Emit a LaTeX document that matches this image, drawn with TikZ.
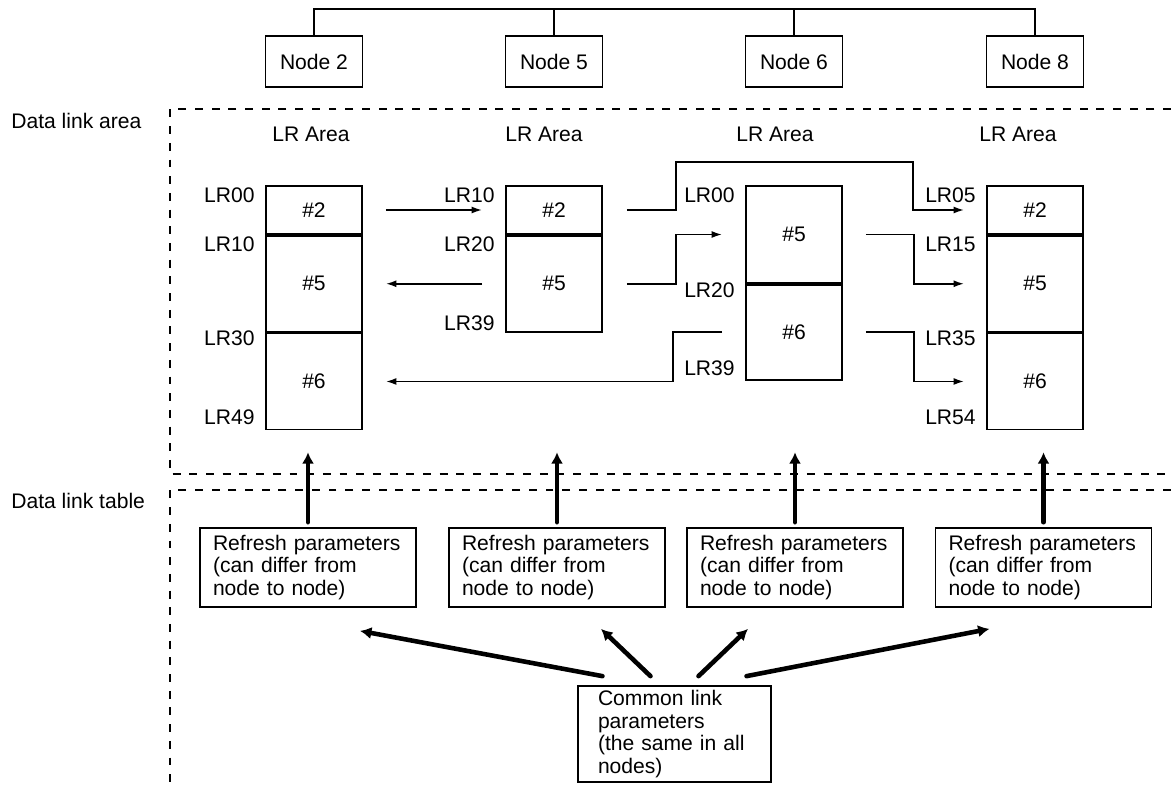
\documentclass[tikz,border=0pt]{standalone}
\usepackage{fontspec}
\setmainfont{Liberation Sans}
\usetikzlibrary{positioning,calc,arrows.meta}

\tikzset{
  every node/.style={font=\fontsize{12}{13}\selectfont},
  nodebox/.style={draw,line width=1pt,minimum width=1.94cm,minimum height=1.02cm,inner sep=0pt},
  cell/.style={draw,line width=1pt,minimum width=1.92cm,inner sep=0pt},
  lr/.style={anchor=east,inner sep=0pt},
  refresh/.style={draw,line width=1pt,align=left,text width=3.8cm,inner xsep=0.26cm,inner ysep=0pt,minimum height=1.58cm},
  link/.style={line width=1pt,-{Latex[length=6pt,width=4pt]}},
  bigarrow/.style={line width=2.6pt,line cap=round,-{Latex[length=6.5pt,width=7pt]}},
  region/.style={line width=1pt,dash pattern=on 4.5pt off 5pt},
  divider/.style={line width=1.4pt}
}

\begin{document}
\begin{tikzpicture}[x=0.02cm,y=-0.02cm]
    \useasboundingbox (0,0) rectangle (1171,795);
    % Network nodes on the bus
    \node[nodebox] (n2) at (314,61.5) {Node 2};
    \node[nodebox] (n5) at (554,61.5) {Node 5};
    \node[nodebox] (n6) at (794,61.5) {Node 6};
    \node[nodebox] (n8) at (1035,61.5) {Node 8};
    \draw[line width=1pt] (n2.north) -- ++(0,-26) -| (n8.north);
    \draw[line width=1pt] (n5.north) -- ++(0,-26);
    \draw[line width=1pt] (n6.north) -- ++(0,-26);
    % Dashed regions
    \draw[region] (1171,109) -- (170,109) -- (170,474) -- (1171,474);
    \draw[region] (1171,490) -- (170,490) -- (170,783);
    \node[anchor=west,inner sep=0pt] (dla) at (11,121) {Data link area};
    \node[anchor=west,inner sep=0pt] (dlt) at (11,501) {Data link table};
    % LR Area headings
    \node (ha) at (311,134) {LR Area};
    \node (hb) at (544,134) {LR Area};
    \node (hc) at (775,134) {LR Area};
    \node (hd) at (1018,134) {LR Area};
    % Node 2 LR area
    \node[cell,minimum height=0.96cm] (b1a) at (314,210) {\#2};
    \node[cell,minimum height=1.92cm,below=0pt of b1a] (b1b) {\#5};
    \node[cell,minimum height=1.92cm,below=0pt of b1b] (b1c) {\#6};
    \draw[divider] (b1a.south west) -- (b1a.south east);
    \draw[divider] (b1b.south west) -- (b1b.south east);
    \node[lr] (l1a) at (255,195) {LR00};
    \node[lr] (l1b) at (255,244) {LR10};
    \node[lr] (l1c) at (255,338) {LR30};
    \node[lr] (l1d) at (255,417) {LR49};
    % Node 5 LR area
    \node[cell,minimum height=0.96cm] (b2a) at (554,210) {\#2};
    \node[cell,minimum height=1.92cm,below=0pt of b2a] (b2b) {\#5};
    \draw[divider] (b2a.south west) -- (b2a.south east);
    \node[lr] (l2a) at (495,195) {LR10};
    \node[lr] (l2b) at (495,244) {LR20};
    \node[lr] (l2c) at (495,323) {LR39};
    % Node 6 LR area
    \node[cell,minimum height=1.94cm] (b3a) at (794,234.5) {\#5};
    \node[cell,minimum height=1.9cm,below=0pt of b3a] (b3b) {\#6};
    \draw[divider] (b3a.south west) -- (b3a.south east);
    \node[lr] (l3a) at (735,195) {LR00};
    \node[lr] (l3b) at (735,290) {LR20};
    \node[lr] (l3c) at (735,368) {LR39};
    % Node 8 LR area
    \node[cell,minimum height=0.96cm] (b4a) at (1035,210) {\#2};
    \node[cell,minimum height=1.92cm,below=0pt of b4a] (b4b) {\#5};
    \node[cell,minimum height=1.92cm,below=0pt of b4b] (b4c) {\#6};
    \draw[divider] (b4a.south west) -- (b4a.south east);
    \draw[divider] (b4b.south west) -- (b4b.south east);
    \node[lr] (l4a) at (976,195) {LR05};
    \node[lr] (l4b) at (976,244) {LR15};
    \node[lr] (l4c) at (976,338) {LR35};
    \node[lr] (l4d) at (976,417) {LR54};
    % Data transfers between the areas
    \draw[link] ($(b1a.east)+(23,0)$) -- ($(b2a.west)+(-23,0)$);
    \draw[link] ($(b2b.west)+(-23,0)$) -- ($(b1b.east)+(23,0)$);
    \draw[link] ($(b3b.west)+(-23,0)$) -- ++(-49,0) |- ($(b1c.east)+(23,0)$);
    \draw[link] ($(b2a.east)+(24,0)$) -- ++(49,0) -- ++(0,-48) -| ($(b4a.west)+(-73,0)$) -- ($(b4a.west)+(-22,0)$);
    \draw[link] ($(b2b.east)+(24,0)$) -- ++(49,0) |- ($(b3a.west)+(-23,0)$);
    \draw[link] ($(b3a.east)+(23,0)$) -- ++(48,0) |- ($(b4b.west)+(-22,0)$);
    \draw[link] ($(b3b.east)+(23,0)$) -- ++(48,0) |- ($(b4c.west)+(-22,0)$);
    % Data link table
    \node[refresh] (r1) at (308,567.5) {Refresh parameters\\(can differ from\\node to node)};
    \node[refresh] (r2) at (557,567.5) {Refresh parameters\\(can differ from\\node to node)};
    \node[refresh] (r3) at (795,567.5) {Refresh parameters\\(can differ from\\node to node)};
    \node[refresh] (r4) at (1043.5,567.5) {Refresh parameters\\(can differ from\\node to node)};
    \node[draw,line width=1pt,align=left,text width=3.06cm,inner xsep=0.4cm,inner ysep=0pt,minimum height=1.92cm] (common) at (674.5,734) {Common link\\parameters\\(the same in all\\nodes)};
    \draw[bigarrow,shorten <=2.8pt,shorten >=12.5pt] (r1.north) -- (r1.north |- b1c.south);
    \draw[bigarrow,shorten <=2.8pt,shorten >=12.5pt] (r2.north) -- (r2.north |- b1c.south);
    \draw[bigarrow,shorten <=2.8pt,shorten >=12.5pt] (r3.north) -- (r3.north |- b1c.south);
    \draw[bigarrow,shorten <=2.8pt,shorten >=12.5pt] (r4.north) -- (r4.north |- b1c.south);
    \draw[bigarrow] ($(common.north)+(-72,-9)$) -- ($(r1.south)+(52,23)$);
    \draw[bigarrow] ($(common.north)+(-24,-9)$) -- ($(r2.south)+(44,21)$);
    \draw[bigarrow] ($(common.north)+(24,-9)$) -- ($(r3.south)+(-47,21)$);
    \draw[bigarrow] ($(common.north)+(72,-9)$) -- ($(r4.south)+(-54,21)$);
\end{tikzpicture}
\end{document}
